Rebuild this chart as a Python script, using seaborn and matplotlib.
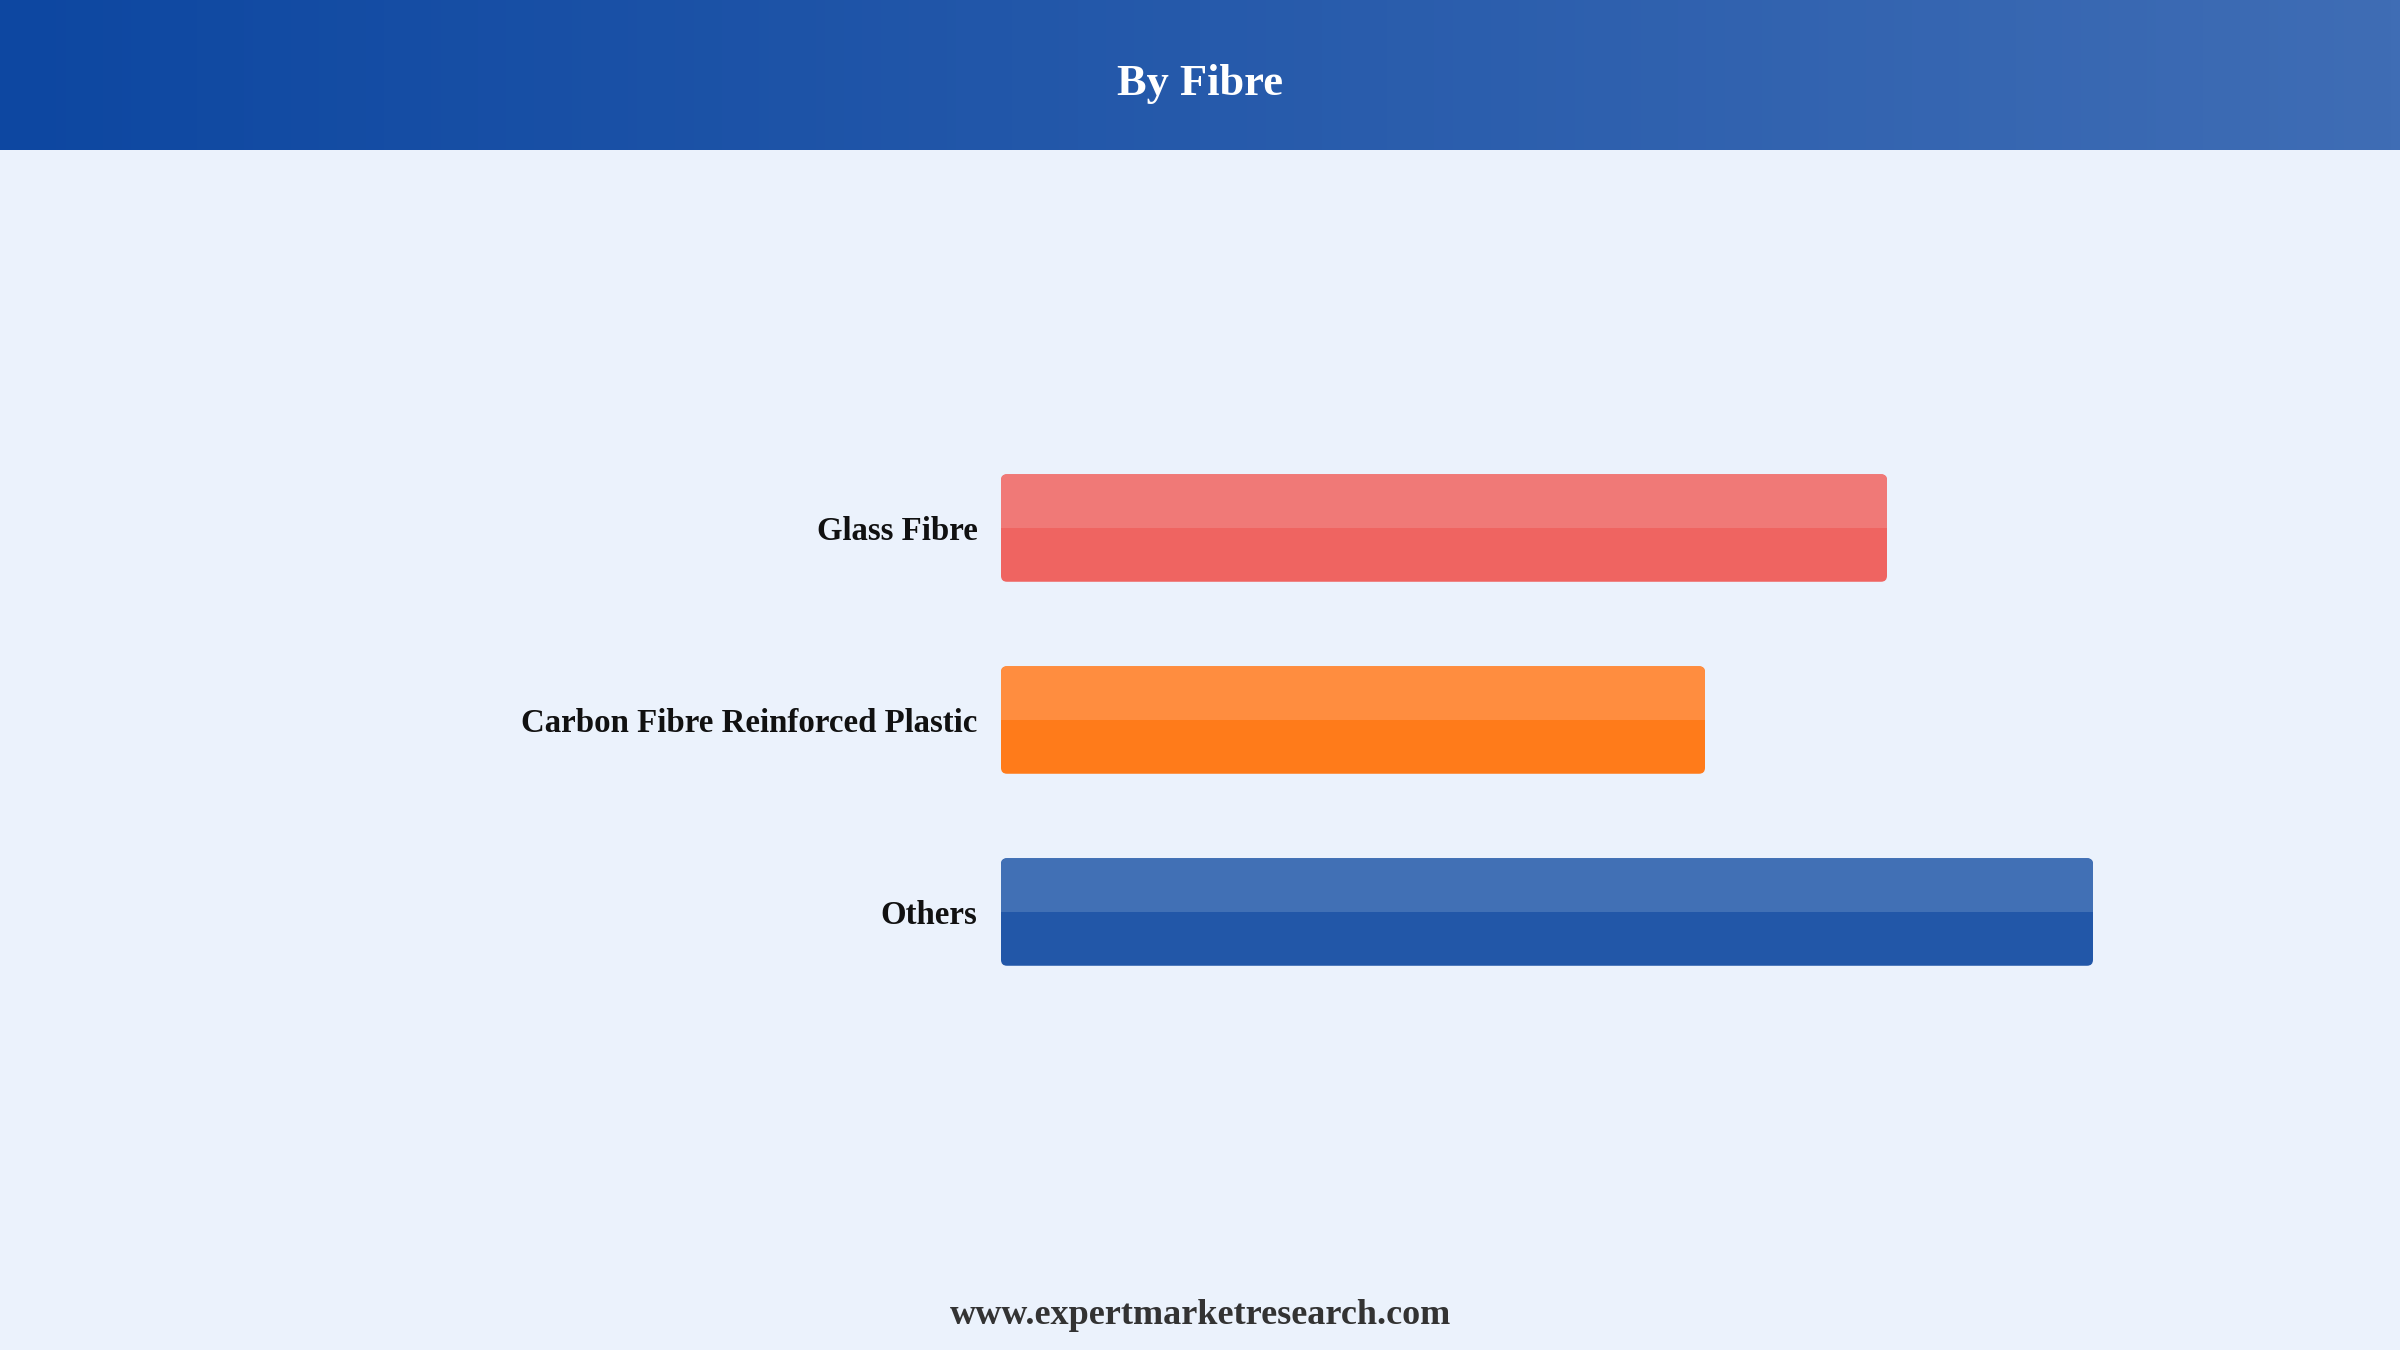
import matplotlib.pyplot as plt
import numpy as np
import pandas as pd
import seaborn as sns
from matplotlib.colors import LinearSegmentedColormap
from matplotlib.patches import FancyBboxPatch, Rectangle

# Données (échelle relative, pas d'axe visible)
categories = ["Glass Fibre", "Carbon Fibre Reinforced Plastic", "Others"]
shares = [44.3, 35.2, 54.6]
base_colors = ["#EF6461", "#FF7B1A", "#2257A8"]
top_colors = ["#F07977", "#FF8D3F", "#4170B5"]

BG = "#EBF2FC"
W, H = 2400, 1350

sns.set_theme(style="white")
plt.rcParams["font.family"] = ["Liberation Serif", "DejaVu Serif"]

fig = plt.figure(figsize=(W / 100, H / 100), dpi=100)
fig.patch.set_facecolor(BG)

# Bandeau de titre en dégradé
header = fig.add_axes([0, 1 - 150 / H, 1, 150 / H])
cmap = LinearSegmentedColormap.from_list("hdr", ["#0D47A1", "#3F6DB5"])
header.imshow(np.linspace(0, 1, 256)[None, :], aspect="auto", cmap=cmap,
              extent=[0, 1, 0, 1])
header.set_axis_off()
header.text(0.5, 0.44, "By Fibre", ha="center", va="center", color="white",
            fontsize=32, fontweight="bold", transform=header.transAxes)

# Barres horizontales (192 px par catégorie)
ax = fig.add_axes([1001 / W, 1 - 1008 / H, 1200 / W, 576 / H])
ax.set_facecolor(BG)
df = pd.DataFrame({"fibre": categories, "share": shares})
sns.barplot(data=df, y="fibre", x="share", hue="fibre", palette=base_colors,
            width=0.56, saturation=1, legend=False, ax=ax)
ax.set_xlim(0, 60)
ax.set_ylim(2.5, -0.5)

for i, container in enumerate(ax.containers):
    for bar in container:
        x0, y0 = bar.get_x(), bar.get_y()
        w, h = bar.get_width(), bar.get_height()
        bar.set_visible(False)
        rounded = FancyBboxPatch((x0, y0), w, h,
                                 boxstyle="round,pad=0,rounding_size=0.3",
                                 mutation_aspect=0.104,
                                 facecolor=base_colors[i], edgecolor="none")
        ax.add_patch(rounded)
        top = Rectangle((x0, y0), w, h / 2, facecolor=top_colors[i],
                        edgecolor="none")
        ax.add_patch(top)
        top.set_clip_path(rounded)

for side in ["top", "right", "bottom", "left"]:
    ax.spines[side].set_visible(False)
ax.set_xticks([])
ax.set_xlabel("")
ax.set_ylabel("")
ax.tick_params(axis="y", length=0, pad=17)
for lbl in ax.get_yticklabels():
    lbl.set_fontsize(23.7)
    lbl.set_fontweight("bold")
    lbl.set_color("#111111")

fig.text(0.5, 1 - 1316 / H, "www.expertmarketresearch.com", ha="center",
         va="center", fontsize=26, fontweight="bold", color="#333333")

fig.savefig("out.png", dpi=100, facecolor=BG)
